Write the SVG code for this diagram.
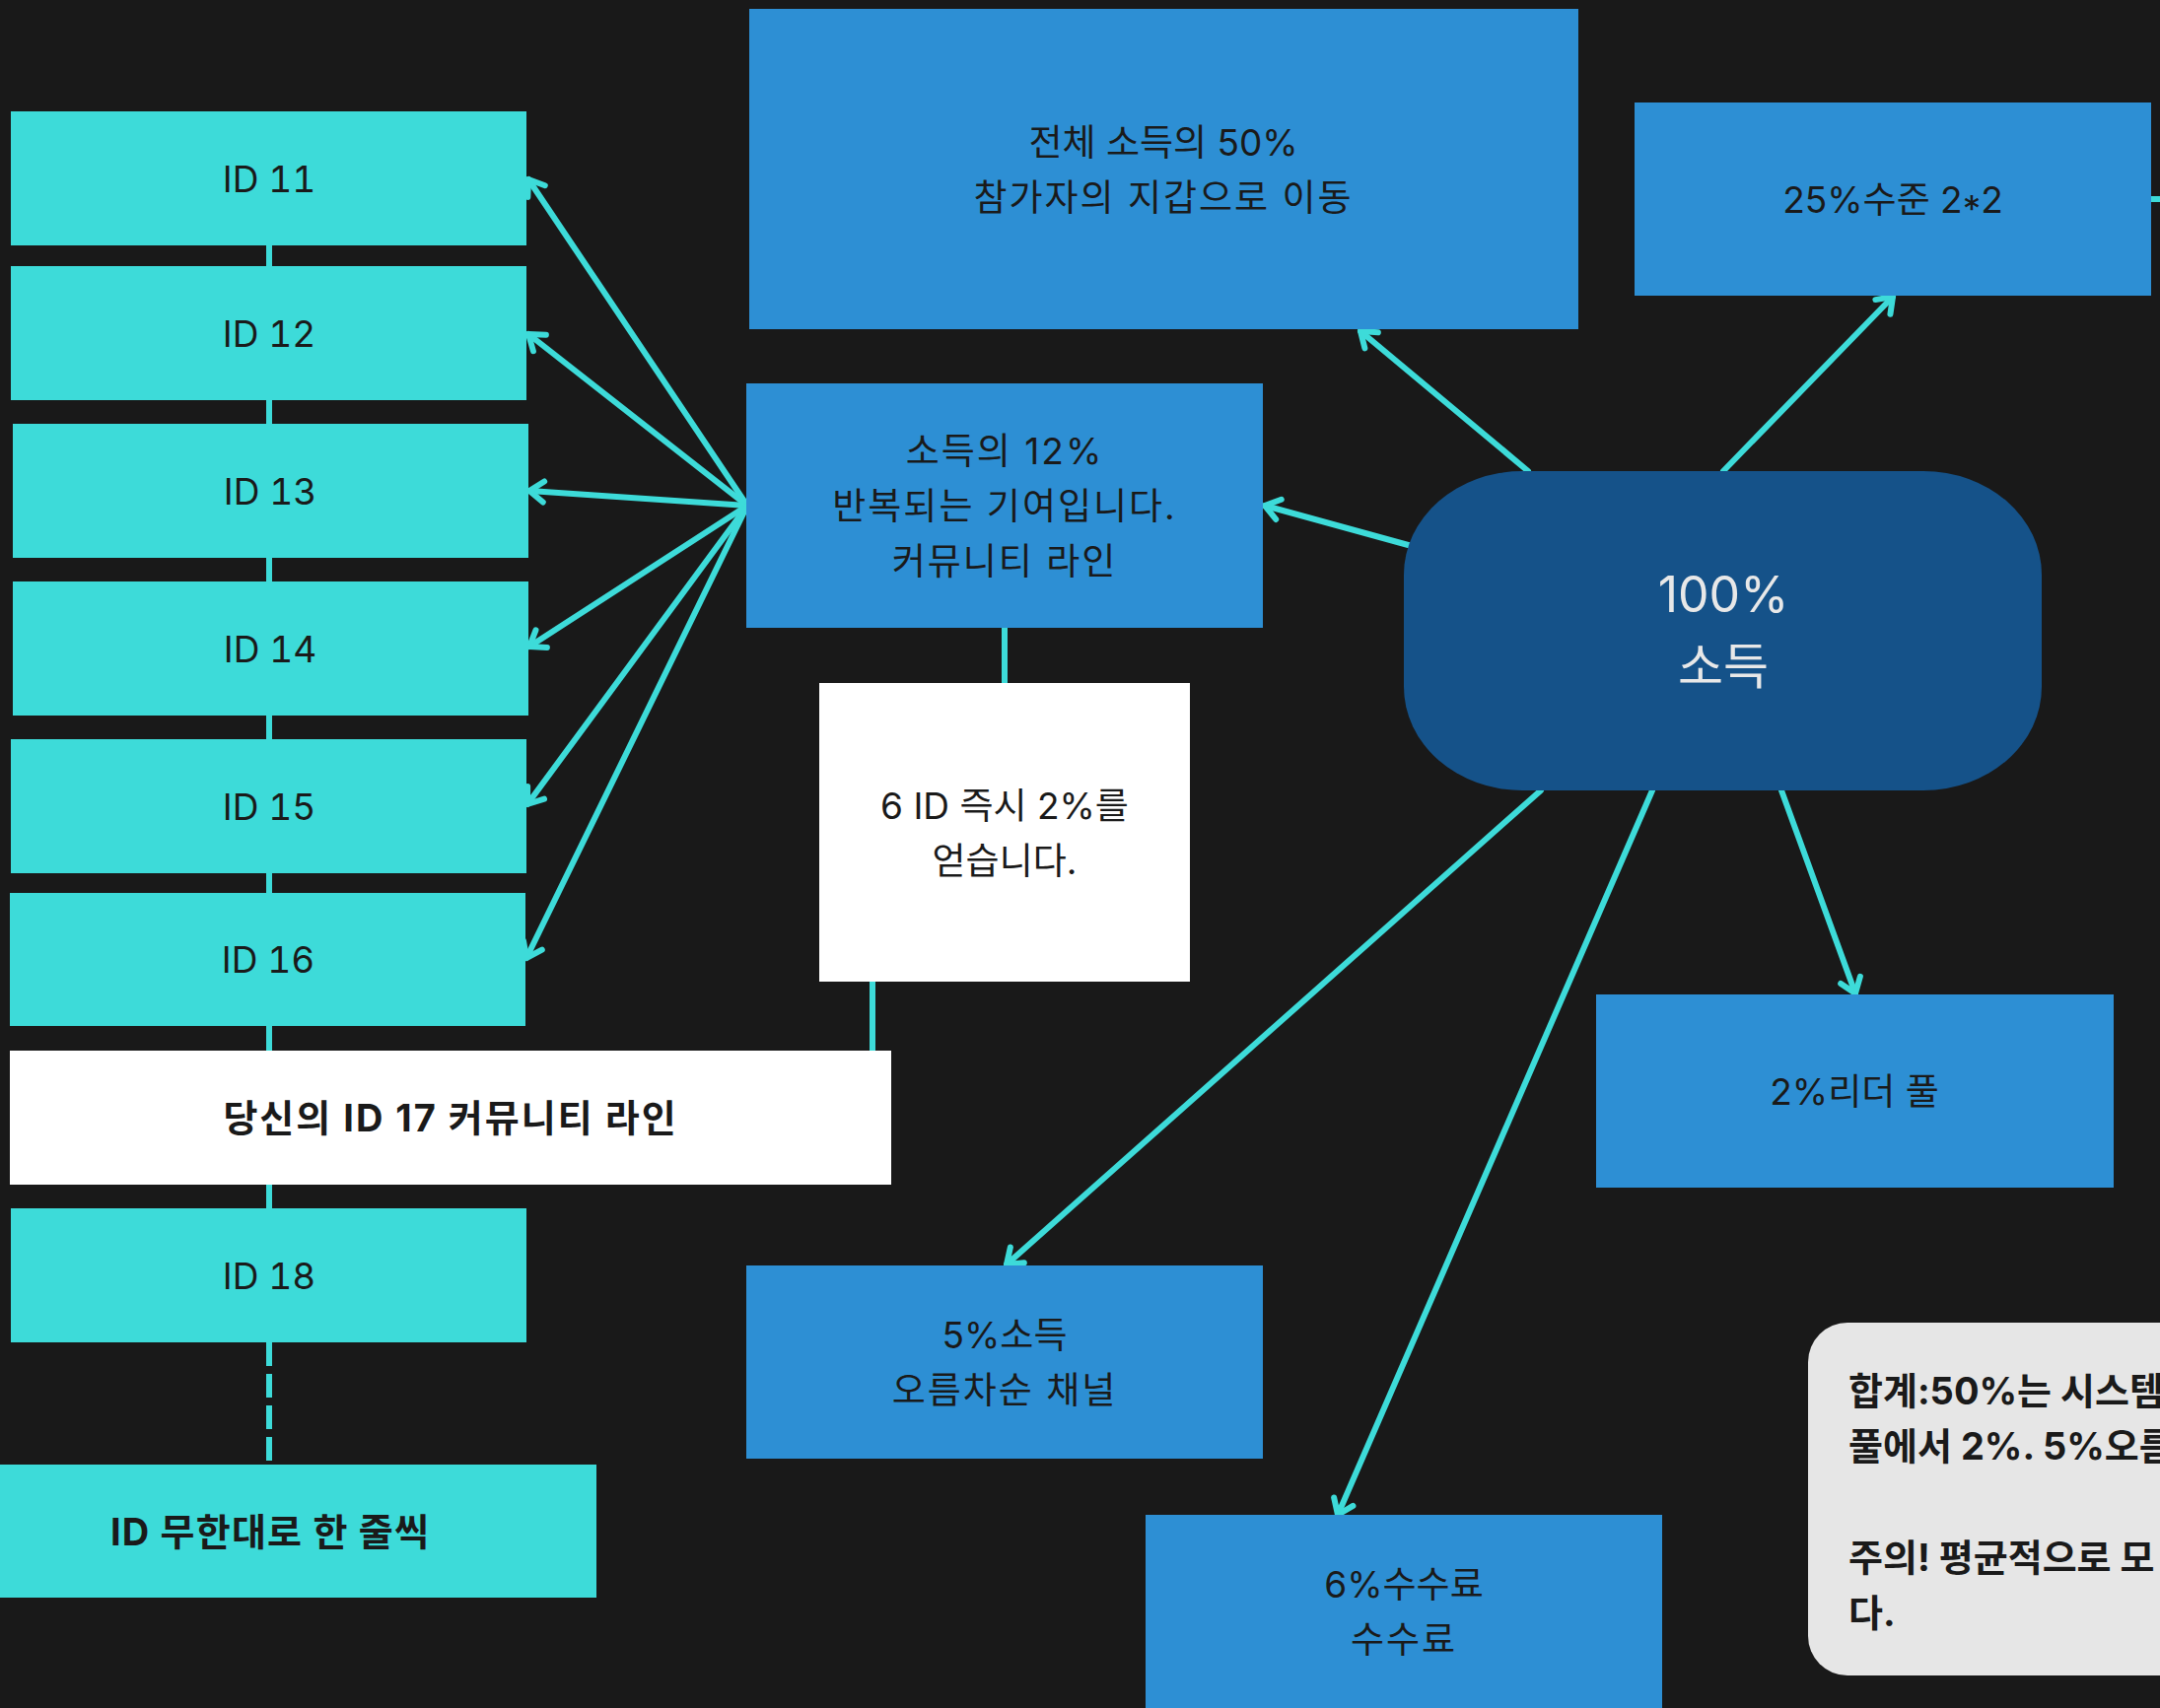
<svg xmlns="http://www.w3.org/2000/svg" width="2191" height="1733" viewBox="0 0 2191 1733">
  <style>
    .t { font-family: Inter, "Noto Sans CJK KR", "Noto Sans", sans-serif; font-size: 37px; fill: #1a1a1a; text-anchor: middle; }
    .k { letter-spacing: 2px; }
    .id { font-variant-numeric: tabular-nums; }
    .b { font-weight: 700; letter-spacing: 2px; font-size: 38px; }
    .cyan { fill: #3ddbd9; }
    .blue { fill: #2d8fd4; }
    .white { fill: #ffffff; }
    .conn { stroke: #3ddbd9; stroke-width: 6; fill: none; }
    .arr { marker-end: url(#ah); stroke-linecap: round; }
  </style>
  <defs>
    <marker id="ah" markerUnits="userSpaceOnUse" markerWidth="40" markerHeight="40" viewBox="-20 -20 40 40" refX="0" refY="0" orient="auto" overflow="visible">
      <path d="M-14.5,-10.5 L0,0 L-14.5,10.5" fill="none" stroke="#3ddbd9" stroke-width="6" stroke-linecap="round" stroke-linejoin="round"/>
    </marker>
  </defs>
  <rect x="0" y="0" width="2191" height="1733" fill="#191919"/>

  <g id="connectors">
    <line class="conn" x1="273" y1="249" x2="273" y2="270"/>
    <line class="conn" x1="273" y1="406" x2="273" y2="430"/>
    <line class="conn" x1="273" y1="566" x2="273" y2="590"/>
    <line class="conn" x1="273" y1="726" x2="273" y2="750"/>
    <line class="conn" x1="273" y1="886" x2="273" y2="906"/>
    <line class="conn" x1="273" y1="1041" x2="273" y2="1066"/>
    <line class="conn" x1="273" y1="1202" x2="273" y2="1226"/>
    <line class="conn" x1="273" y1="1362" x2="273" y2="1482" stroke-dasharray="24 8"/>
    <line class="conn" x1="1019" y1="637" x2="1019" y2="693"/>
    <line class="conn" x1="885" y1="996" x2="885" y2="1066"/>
    <line class="conn" x1="2182" y1="202" x2="2200" y2="202"/>
    <line class="conn arr" x1="758" y1="513" x2="536" y2="182"/>
    <line class="conn arr" x1="758" y1="513" x2="536" y2="339"/>
    <line class="conn arr" x1="758" y1="513" x2="537" y2="498"/>
    <line class="conn arr" x1="758" y1="513" x2="537" y2="656"/>
    <line class="conn arr" x1="758" y1="513" x2="535" y2="816"/>
    <line class="conn arr" x1="758" y1="513" x2="534" y2="972"/>
    <line class="conn arr" x1="1432" y1="554" x2="1283" y2="513"/>
    <line class="conn arr" x1="1550" y1="478" x2="1380" y2="336"/>
    <line class="conn arr" x1="1748" y1="478" x2="1920" y2="301"/>
    <line class="conn arr" x1="1807" y1="802" x2="1882" y2="1008"/>
    <line class="conn arr" x1="1676" y1="802" x2="1357" y2="1537"/>
    <line class="conn arr" x1="1563" y1="802" x2="1021" y2="1283"/>
  </g>

  <g id="id11"><rect class="cyan" x="11" y="113" width="523" height="136"/><text class="t id" x="273" y="195">ID 11</text></g>
  <g id="id12"><rect class="cyan" x="11" y="270" width="523" height="136"/><text class="t id" x="273" y="352">ID 12</text></g>
  <g id="id13"><rect class="cyan" x="13" y="430" width="523" height="136"/><text class="t id" x="274" y="512">ID 13</text></g>
  <g id="id14"><rect class="cyan" x="13" y="590" width="523" height="136"/><text class="t id" x="274" y="672">ID 14</text></g>
  <g id="id15"><rect class="cyan" x="11" y="750" width="523" height="136"/><text class="t id" x="273" y="832">ID 15</text></g>
  <g id="id16"><rect class="cyan" x="10" y="906" width="523" height="135"/><text class="t id" x="272" y="987">ID 16</text></g>
  <g id="id17"><rect class="white" x="10" y="1066" width="894" height="136"/><text class="t b" x="457" y="1148">당신의 ID 17 커뮤니티 라인</text></g>
  <g id="id18"><rect class="cyan" x="11" y="1226" width="523" height="136"/><text class="t id" x="273" y="1308">ID 18</text></g>
  <g id="idinf"><rect class="cyan" x="-59" y="1486" width="664" height="135"/><text class="t b" x="274" y="1568" style="letter-spacing:1.2px">ID 무한대로 한 줄씩</text></g>

  <g id="n50"><rect class="blue" x="760" y="9" width="841" height="325"/>
    <text class="t" x="1180" y="158">전체 소득의 50%</text>
    <text class="t k" x="1180" y="214">참가자의 지갑으로 이동</text></g>
  <g id="n12"><rect class="blue" x="757" y="389" width="524" height="248"/>
    <text class="t k" x="1019" y="471">소득의 12%</text>
    <text class="t k" x="1019" y="527">반복되는 기여입니다.</text>
    <text class="t k" x="1019" y="583">커뮤니티 라인</text></g>
  <g id="n25"><rect class="blue" x="1658" y="104" width="524" height="196"/>
    <text class="t" x="1920" y="216">25%수준 2<tspan dy="9">*</tspan><tspan dy="-9">2</tspan></text></g>
  <g id="n6id"><rect class="white" x="831" y="693" width="376" height="303"/>
    <text class="t" x="1019" y="831">6 ID 즉시 2%를</text>
    <text class="t" x="1019" y="887">얻습니다.</text></g>
  <g id="center"><rect x="1424" y="478" width="647" height="324" rx="120" ry="105" fill="#155289"/>
    <text class="t" x="1748" y="621" style="font-size:50px;fill:#e8e8e8">100%</text>
    <text class="t" x="1748" y="694" style="font-size:50px;fill:#e8e8e8">소득</text></g>
  <g id="n2"><rect class="blue" x="1619" y="1009" width="525" height="196"/>
    <text class="t" x="1881" y="1121">2%리더 풀</text></g>
  <g id="n5"><rect class="blue" x="757" y="1284" width="524" height="196"/>
    <text class="t" x="1019" y="1368">5%소득</text>
    <text class="t k" x="1019" y="1424">오름차순 채널</text></g>
  <g id="n6"><rect class="blue" x="1162" y="1537" width="524" height="196"/>
    <text class="t" x="1424" y="1621">6%수수료</text>
    <text class="t k" x="1424" y="1677">수수료</text></g>
  <g id="note"><rect x="1834" y="1342" width="420" height="358" rx="40" ry="40" fill="#e6e6e6"/>
    <text class="t b" x="1875" y="1425" style="text-anchor:start;letter-spacing:0">합계:50%는 시스템</text>
    <text class="t b" x="1875" y="1481" style="text-anchor:start;letter-spacing:0">풀에서 2%. 5%오름</text>
    <text class="t b" x="1875" y="1594" style="text-anchor:start;letter-spacing:0">주의! 평균적으로 모</text>
    <text class="t b" x="1875" y="1650" style="text-anchor:start;letter-spacing:0">다.</text></g>
</svg>
